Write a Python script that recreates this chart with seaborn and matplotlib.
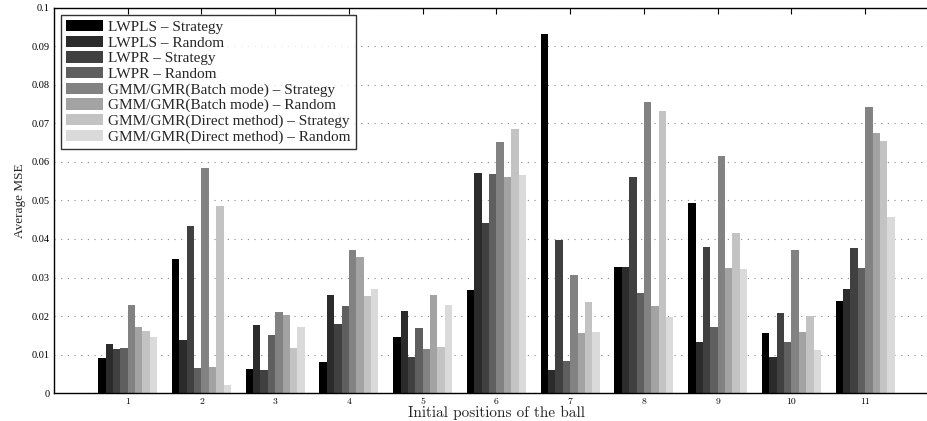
"""
Average MSE per initial ball position, grouped bars for 8 method/mode combos
"""

import matplotlib
matplotlib.use("Agg")
import matplotlib.pyplot as plt
from matplotlib.patches import Patch
from matplotlib.ticker import MultipleLocator, FuncFormatter
import seaborn as sns
import pandas as pd

# data
positions = list(range(1, 12))
methods = [
    "LWPLS \u2013 Strategy",
    "LWPLS \u2013 Random",
    "LWPR \u2013 Strategy",
    "LWPR \u2013 Random",
    "GMM/GMR(Batch mode) \u2013 Strategy",
    "GMM/GMR(Batch mode) \u2013 Random",
    "GMM/GMR(Direct method) \u2013 Strategy",
    "GMM/GMR(Direct method) \u2013 Random",
]
lwpls_strategy = [0.0092, 0.0348, 0.0063, 0.0081, 0.0146, 0.0268, 0.0931, 0.0327, 0.0494, 0.0156, 0.0239]
lwpls_random = [0.0128, 0.0138, 0.0177, 0.0255, 0.0213, 0.0571, 0.0060, 0.0327, 0.0133, 0.0094, 0.0270]
lwpr_strategy = [0.0115, 0.0434, 0.0060, 0.0180, 0.0094, 0.0442, 0.0397, 0.0560, 0.0379, 0.0208, 0.0377]
lwpr_random = [0.0118, 0.0066, 0.0151, 0.0226, 0.0169, 0.0569, 0.0084, 0.0260, 0.0172, 0.0133, 0.0325]
gmr_batch_strategy = [0.0229, 0.0584, 0.0211, 0.0372, 0.0115, 0.0652, 0.0307, 0.0755, 0.0615, 0.0372, 0.0742]
gmr_batch_random = [0.0172, 0.0068, 0.0203, 0.0354, 0.0255, 0.0561, 0.0156, 0.0226, 0.0325, 0.0159, 0.0674]
gmr_direct_strategy = [0.0162, 0.0486, 0.0118, 0.0252, 0.0120, 0.0685, 0.0237, 0.0731, 0.0416, 0.0200, 0.0654]
gmr_direct_random = [0.0146, 0.0022, 0.0172, 0.0270, 0.0229, 0.0566, 0.0159, 0.0198, 0.0322, 0.0112, 0.0457]

series = [lwpls_strategy, lwpls_random, lwpr_strategy, lwpr_random,
          gmr_batch_strategy, gmr_batch_random, gmr_direct_strategy, gmr_direct_random]
colors = ["#000000", "#2b2b2b", "#404040", "#5f5f5f",
          "#828282", "#a3a3a3", "#c3c3c3", "#dadada"]

rows = []
for name, vals in zip(methods, series):
    for pos, v in zip(positions, vals):
        rows.append({"position": pos, "mse": v, "method": name})
df = pd.DataFrame(rows)

sns.set_style("white")
plt.rcParams["font.family"] = ["Liberation Serif", "DejaVu Serif"]

fig = plt.figure(figsize=(9.28, 4.21), dpi=100)
# axes run past the right edge, like the cropped original
ax = fig.add_axes([54 / 928, 27.7 / 421, 885 / 928, 385.8 / 421])

sns.barplot(data=df, x="position", y="mse", hue="method", hue_order=methods,
            palette=colors, native_scale=True, saturation=1, width=0.8,
            linewidth=0, errorbar=None, legend=False, ax=ax)

ax.set_xlim(0, 12)
ax.set_ylim(0, 0.1)
ax.set_xticks(positions)
ax.set_xticklabels([str(p) for p in positions])
ax.yaxis.set_major_locator(MultipleLocator(0.01))
ax.yaxis.set_major_formatter(FuncFormatter(lambda v, p: f"{v:g}"))

ax.set_axisbelow(True)
ax.yaxis.grid(True, color="#8a8a8a", linestyle=(0, (1, 5)), linewidth=0.8)
ax.xaxis.grid(False)
for s in ax.spines.values():
    s.set_color("black")
    s.set_linewidth(1.0)

ax.tick_params(direction="in", top=True, right=True, length=4, width=0.8,
               colors="black", pad=3)
for lbl in ax.get_xticklabels():
    lbl.set_family("cmr10")
    lbl.set_fontsize(7)
for lbl in ax.get_yticklabels():
    lbl.set_fontsize(7.5)

ax.set_xlabel("Initial positions of the ball", family="cmr10", fontsize=11, labelpad=0)
ax.set_ylabel("Average MSE", fontsize=9.5, labelpad=4)

handles = [Patch(facecolor=c, edgecolor="none") for c in colors]
leg = ax.legend(handles, methods, loc="upper left", bbox_to_anchor=(0.008, 0.981),
                borderaxespad=0, fontsize=11, frameon=True, fancybox=False,
                labelspacing=0.11, handlelength=2.4, handleheight=0.75,
                handletextpad=0.3, borderpad=0.35)
leg.get_frame().set_edgecolor("black")
leg.get_frame().set_linewidth(1.0)

plt.savefig("out.png", dpi=100)
plt.close()
